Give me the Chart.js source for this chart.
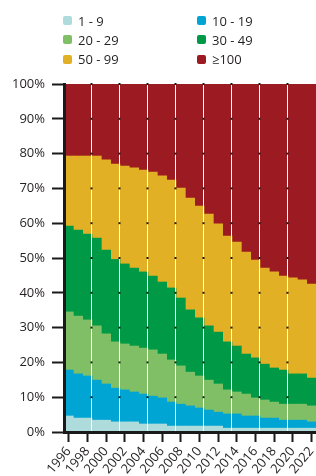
<!DOCTYPE html>
<html>
<head>
<meta charset="utf-8">
<script src="https://cdn.jsdelivr.net/npm/chart.js@4.4.1/dist/chart.umd.min.js"></script>
<style>
  html, body { margin: 0; padding: 0; background: #fff; }
  #wrap { position: relative; width: 316px; height: 476px; }
  #legend {
    position: absolute; left: 63px; top: 11px;
    display: grid; grid-template-columns: 134px 110px; grid-auto-rows: 19.3px;
    font: 13px "Open Sans", sans-serif; color: #231f20;
  }
  .item { display: flex; align-items: center; white-space: nowrap; }
  .box { width: 9px; height: 9px; border-radius: 2px; margin-right: 6px; }
</style>
</head>
<body>
<div id="wrap">
  <div id="legend"></div>
  <canvas id="chart"></canvas>
</div>
<script>
// Anteil nach Größenklasse, in Prozent
const years = ['1996', '1997', '1998', '1999', '2000', '2001', '2002', '2003', '2004',
  '2005', '2006', '2007', '2008', '2009', '2010', '2011', '2012', '2013', '2014',
  '2015', '2016', '2017', '2018', '2019', '2020', '2021', '2022'];

const seriesLabels = ['1 - 9', '10 - 19', '20 - 29', '30 - 49', '50 - 99', '≥100'];

const size1to9 = [4.6, 4.0, 4.0, 3.4, 3.4, 2.9, 2.9, 2.9, 2.3, 2.3, 2.3, 1.7, 1.7, 1.7,
  1.7, 1.7, 1.7, 1.1, 1.1, 1.1, 1.1, 1.1, 1.1, 1.1, 1.1, 1.1, 1.1];
const size10to19 = [13.2, 12.7, 12.1, 11.5, 10.4, 9.7, 9.2, 8.6, 8.6, 8.0, 7.5, 6.9, 6.3, 5.8,
  5.2, 4.6, 4.0, 4.1, 4.1, 3.5, 3.5, 2.9, 2.9, 2.3, 2.3, 2.3, 1.8];
const size20to29 = [16.7, 16.6, 16.1, 15.6, 14.4, 13.3, 13.2, 13.2, 13.2, 13.3, 12.6, 12.1, 11.0, 9.7,
  9.2, 8.6, 8.1, 6.9, 6.3, 6.3, 5.2, 5.2, 4.6, 4.6, 4.6, 4.6, 4.6];
const size30to49 = [24.7, 24.7, 24.7, 25.2, 24.1, 23.7, 23.0, 22.4, 21.9, 21.2, 20.7, 20.7, 19.5, 17.9,
  16.7, 15.6, 14.9, 13.8, 13.2, 11.5, 11.5, 10.3, 9.8, 9.8, 8.7, 8.7, 8.0];
const size50to99 = [20.1, 21.3, 22.4, 23.6, 25.9, 27.4, 28.1, 28.8, 29.3, 29.9, 30.5, 31.0, 31.6, 32.1,
  32.1, 32.1, 31.1, 30.4, 29.9, 29.3, 28.1, 27.6, 27.6, 27.0, 27.6, 27.0, 27.0];
const size100plus = [20.7, 20.7, 20.7, 20.7, 21.8, 23.0, 23.6, 24.1, 24.7, 25.3, 26.4, 27.6, 29.9, 32.8,
  35.1, 37.4, 40.2, 43.7, 45.4, 48.3, 50.6, 52.9, 54.0, 55.2, 55.7, 56.3, 57.5];

const yTicks = [0, 10, 20, 30, 40, 50, 60, 70, 80, 90, 100];

const colors = ['#aedbdb', '#00a5d3', '#80bf65', '#009a47', '#e1b025', '#9c1a21'];
const seriesValues = [size1to9, size10to19, size20to29, size30to49, size50to99, size100plus];

const textColor = '#231f20';
const axisColor = '#1a1a1a';

// weiße Trennlinien alle drei Balken, mit kleinen Gitter-Markierungen
const gapLines = {
  id: 'gapLines',
  afterDatasetsDraw(chart) {
    const { ctx, chartArea, scales } = chart;
    ctx.save();
    for (let i = 3; i < years.length; i += 3) {
      const mid = (scales.x.getPixelForValue(i - 1) + scales.x.getPixelForValue(i)) / 2;
      const px = Math.round(mid) - 1;
      ctx.fillStyle = '#fff';
      ctx.fillRect(px, chartArea.top, 1, chartArea.bottom - chartArea.top);
      ctx.fillStyle = axisColor;
      yTicks.forEach(function(v) {
        const py = scales.y.getPixelForValue(v);
        ctx.fillRect(px - 0.5, py - 1, 2, 2);
      });
    }
    ctx.restore();
  }
};

function buildLegend() {
  const legendEl = document.getElementById('legend');
  seriesLabels.forEach(function(label, i) {
    const item = document.createElement('div');
    item.className = 'item';
    const box = document.createElement('span');
    box.className = 'box';
    box.style.background = colors[i];
    const txt = document.createElement('span');
    txt.textContent = label;
    item.appendChild(box);
    item.appendChild(txt);
    legendEl.appendChild(item);
  });
}

function initChart() {
  const ctx = document.getElementById('chart').getContext('2d');
  new Chart(ctx, {
    type: 'bar',
    data: {
      labels: years,
      datasets: seriesValues.map(function(values, i) {
        return {
          label: seriesLabels[i],
          data: values,
          backgroundColor: colors[i],
          borderWidth: 0,
          barPercentage: 1,
          categoryPercentage: 1
        };
      })
    },
    options: {
      responsive: true,
      maintainAspectRatio: false,
      animation: false,
      layout: { padding: { top: 84, left: 0, right: 0, bottom: 0 } },
      plugins: {
        legend: { display: false },
        tooltip: { enabled: false }
      },
      scales: {
        x: {
          stacked: true,
          offset: true,
          grid: {
            offset: false,
            drawOnChartArea: false,
            tickLength: 10,
            tickWidth: 2,
            tickColor: function(c) { return c.index % 2 ? 'rgba(0,0,0,0)' : axisColor; }
          },
          border: { color: axisColor, width: 3, z: 1 },
          ticks: {
            autoSkip: false,
            minRotation: 50,
            maxRotation: 50,
            padding: 2,
            color: textColor,
            font: { family: '"Open Sans", sans-serif', size: 13 },
            callback: function(v, i) { return i % 2 ? '' : years[i]; }
          },
          afterFit: function(s) {
            s.height = 44;
            s.paddingLeft = 0;
            s.paddingRight = 0;
          }
        },
        y: {
          stacked: true,
          min: 0,
          max: 100,
          grid: {
            drawOnChartArea: false,
            tickLength: 12,
            tickWidth: 2,
            tickColor: axisColor
          },
          border: { color: axisColor, width: 3, z: 1 },
          ticks: {
            stepSize: 10,
            padding: 7,
            color: textColor,
            font: { family: '"Open Sans", sans-serif', size: 13 },
            callback: function(v) { return v + '%'; }
          },
          afterFit: function(s) { s.width = 64; }
        }
      }
    },
    plugins: [gapLines]
  });
}

document.addEventListener('DOMContentLoaded', function() {
  buildLegend();
  initChart();
});
</script>
</body>
</html>
